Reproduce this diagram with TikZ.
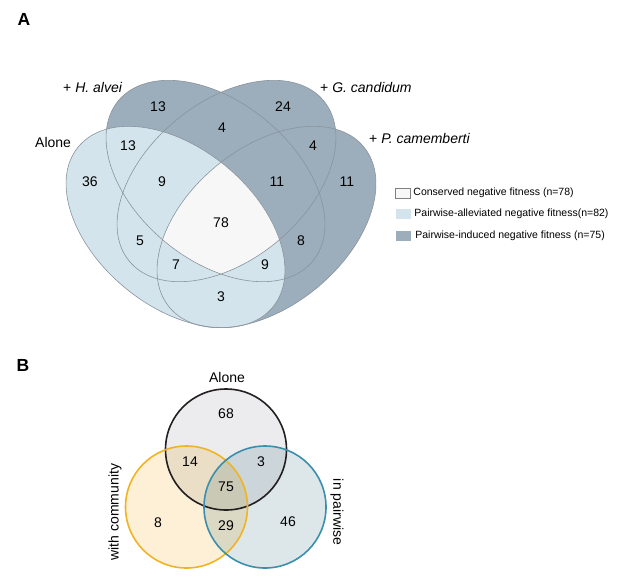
\documentclass[tikz,border=0pt]{standalone}
\usepackage{fontspec}
\setmainfont{Liberation Sans}
\usepackage{tikz}
\usetikzlibrary{positioning}
\definecolor{vdark}{RGB}{156,173,188}
\definecolor{vlight}{RGB}{211,228,236}
\definecolor{vwhite}{RGB}{247,247,247}
\definecolor{vline}{RGB}{138,148,156}
\definecolor{aloneln}{RGB}{35,31,32}
\definecolor{alonefl}{RGB}{236,236,238}
\definecolor{commln}{RGB}{240,180,35}
\definecolor{commfl}{RGB}{253,240,214}
\definecolor{pairln}{RGB}{58,143,174}
\definecolor{pairfl}{RGB}{221,231,234}
\tikzset{
  num/.style={draw=none, inner sep=0, font=\fontsize{14}{16}\selectfont},
  lbl/.style={draw=none, inner sep=0, font=\fontsize{14}{16}\selectfont},
  panel/.style={draw=none, inner sep=0, font=\fontsize{17.5}{20}\selectfont\bfseries},
  legbox/.style={minimum width=15pt, minimum height=10pt, inner sep=0},
  legtext/.style={draw=none, inner sep=0, font=\fontsize{10.5}{12}\selectfont},
  venn/.style={draw=vline, line width=0.6pt},
  ellA/.style={rotate around={-39.5:(175.5,227)}},
  ellB/.style={rotate around={-39.5:(215.5,181)}},
  ellC/.style={rotate around={39.5:(226.5,181)}},
  ellD/.style={rotate around={39.5:(266.5,227)}},
  ring/.style={line width=1.6pt},
}
\newcommand\pathA{(175.5,227) ellipse [x radius=126, y radius=79]}
\newcommand\pathB{(215.5,181) ellipse [x radius=126, y radius=79]}
\newcommand\pathC{(226.5,181) ellipse [x radius=126, y radius=79]}
\newcommand\pathD{(266.5,227) ellipse [x radius=126, y radius=79]}

\begin{document}
\begin{tikzpicture}[x=1pt, y=-1pt]
\useasboundingbox (0,0) rectangle (617,581);
\fill[white] (0,0) rectangle (617,581);

% panel A
\node[panel] (pA) at (24,19) {A};
\fill[vdark, ellB] \pathB;
\fill[vdark, ellC] \pathC;
\fill[vdark, ellD] \pathD;
\fill[vlight, ellA] \pathA;
\begin{scope}
  \clip[ellB] \pathB;
  \clip[ellC] \pathC;
  \clip[ellD] \pathD;
  \fill[vwhite, ellA] \pathA;
\end{scope}
\draw[venn, ellA] \pathA;
\draw[venn, ellB] \pathB;
\draw[venn, ellC] \pathC;
\draw[venn, ellD] \pathD;

\node[lbl, anchor=west] (lAlone) at (35,142) {Alone};
\node[lbl, anchor=west] (lHal) at (63,87) {+ \textit{H. alvei}};
\node[lbl, anchor=west] (lGca) at (320,87) {+ \textit{G. candidum}};
\node[lbl, anchor=west] (lPca) at (369,138) {+ \textit{P. camemberti}};

\node[num] (nB) at (158,107) {13};
\node[num] (nC) at (283,107) {24};
\node[num] (nBC) at (222,128) {4};
\node[num] (nAB) at (128,146) {13};
\node[num] (nCD) at (313,146) {4};
\node[num] (nA) at (90,182) {36};
\node[num] (nABC) at (162,182) {9};
\node[num] (nBCD) at (277,182) {11};
\node[num] (nD) at (347,182) {11};
\node[num] (nABCD) at (221,223) {78};
\node[num] (nAC) at (140,241) {5};
\node[num] (nBD) at (301,241) {8};
\node[num] (nACD) at (176,265) {7};
\node[num] (nABD) at (265,265) {9};
\node[num] (nAD) at (221,297) {3};

% legend
\node[legbox, fill=vwhite, draw=gray, line width=0.5pt] (k1) at (403,193) {};
\node[legbox, fill=vlight] (k2) at (403,213.5) {};
\node[legbox, fill=vdark] (k3) at (403,236) {};
\node[legtext, right=2.5pt of k1] (t1) {Conserved negative fitness (n=78)};
\node[legtext, right=3.5pt of k2] (t2) {Pairwise-alleviated negative fitness(n=82)};
\node[legtext, right=4.5pt of k3] (t3) {Pairwise-induced negative fitness (n=75)};

% panel B
\node[panel] (pB) at (23,365) {B};
\fill[alonefl, blend mode=multiply] (226,449.5) circle [radius=60.5];
\fill[commfl, blend mode=multiply] (186.5,507) circle [radius=61];
\fill[pairfl, blend mode=multiply] (265,507) circle [radius=61];
\draw[ring, aloneln] (226,449.5) circle [radius=60.5];
\draw[ring, commln] (186.5,507) circle [radius=61];
\draw[ring, pairln] (265,507) circle [radius=61];

\node[lbl] (lAloneB) at (227,377) {Alone};
\node[lbl, rotate=90] (lComm) at (115,512) {with community};
\node[lbl, rotate=-90] (lPair) at (337,512) {in pairwise};

\node[num] (m68) at (226,414) {68};
\node[num] (m14) at (190,462) {14};
\node[num] (m3) at (261,462) {3};
\node[num] (m75) at (226,487) {75};
\node[num] (m8) at (158,523) {8};
\node[num] (m29) at (226,526) {29};
\node[num] (m46) at (288,522) {46};
\end{tikzpicture}
\end{document}
